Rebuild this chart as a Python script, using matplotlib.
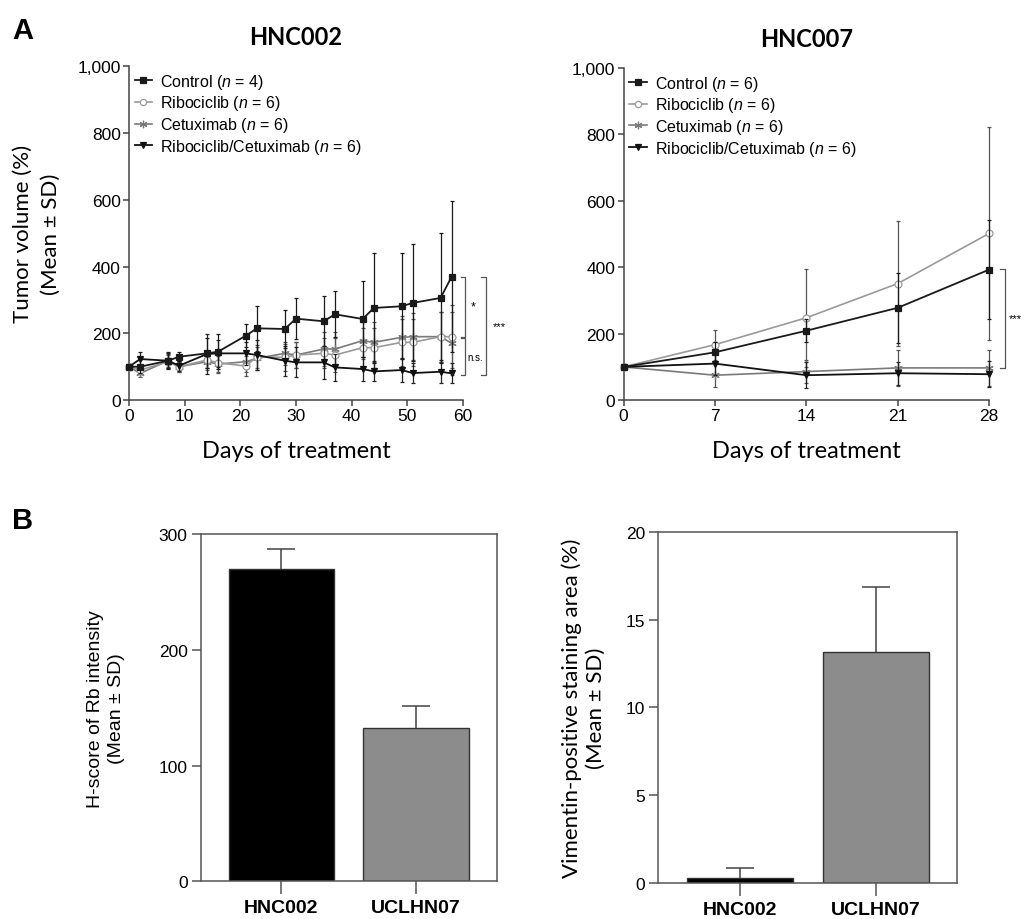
import matplotlib
matplotlib.use("Agg")
import matplotlib.pyplot as plt

plt.rcParams['font.family'] = ['Liberation Sans', 'DejaVu Sans']
plt.rcParams['mathtext.fontset'] = 'custom'
plt.rcParams['mathtext.it'] = 'Liberation Sans:italic'
plt.rcParams['mathtext.rm'] = 'Liberation Sans'

# ---- panel A, HNC002 ----
days_002 = [0, 2, 7, 9, 14, 16, 21, 23, 28, 30, 35, 37, 42, 44, 49, 51, 56, 58]
ctrl_002 = [100, 100, 118, 130, 140, 145, 193, 215, 213, 244, 236, 257, 243, 276, 281, 291, 306, 370]
ctrl_002_sd = [0, 20, 25, 13, 45, 53, 35, 68, 58, 62, 75, 69, 113, 164, 159, 175, 194, 225]
ribo_002 = [100, 90, 115, 100, 120, 112, 102, 130, 128, 135, 140, 135, 157, 157, 173, 173, 190, 190]
ribo_002_sd = [0, 12, 20, 15, 25, 30, 30, 35, 40, 40, 45, 50, 60, 60, 70, 70, 75, 95]
cetux_002 = [100, 80, 118, 100, 115, 108, 115, 125, 140, 135, 153, 153, 178, 173, 188, 190, 190, 170]
cetux_002_sd = [0, 10, 20, 15, 25, 25, 30, 35, 35, 40, 50, 50, 55, 60, 65, 70, 75, 95]
combo_002 = [100, 123, 118, 103, 138, 140, 140, 135, 118, 113, 113, 98, 93, 86, 90, 81, 85, 80]
combo_002_sd = [0, 22, 22, 15, 60, 40, 35, 45, 45, 45, 50, 40, 35, 30, 35, 30, 35, 30]
n_002 = [4, 6, 6, 6]

# ---- panel A, HNC007 ----
days_007 = [0, 7, 14, 21, 28]
ctrl_007 = [100, 144, 209, 278, 393]
ctrl_007_sd = [0, 30, 35, 105, 150]
ribo_007 = [100, 167, 248, 351, 502]
ribo_007_sd = [0, 45, 147, 187, 320]
cetux_007 = [100, 75, 86, 97, 97]
cetux_007_sd = [0, 35, 35, 55, 55]
combo_007 = [100, 110, 75, 81, 78]
combo_007_sd = [0, 35, 40, 35, 40]
n_007 = [6, 6, 6, 6]

names = ['Control', 'Ribociclib', 'Cetuximab', 'Ribociclib/Cetuximab']

# ---- panel B ----
models = ['HNC002', 'UCLHN07']
rb_hscore = [270, 133]
rb_hscore_sd = [17, 19]
vim_area = [0.3, 13.15]
vim_area_sd = [0.55, 3.7]

styles = [
    dict(color='#1a1a1a', ecolor='#1a1a1a', marker='s', ms=4.6, mfc='#1a1a1a', lw=1.3, z=6),
    dict(color='#9a9a9a', ecolor='#555555', marker='o', ms=5.0, mfc='white', lw=1.2, z=4),
    dict(color='#7a7a7a', ecolor='#555555', marker=(6, 2, 0), ms=6.0, mfc='#7a7a7a', lw=1.2, z=3),
    dict(color='#111111', ecolor='#222222', marker='v', ms=5.0, mfc='#111111', lw=1.3, z=5),
]

fig = plt.figure(figsize=(10.24, 9.2), dpi=100)


def growth_panel(ax, days, series, ns, xticks):
    handles = []
    for (mean, sd), st, name, n in zip(series, styles, names, ns):
        ax.errorbar(days, mean, yerr=sd, fmt='none', ecolor=st['ecolor'], elinewidth=0.9,
                    capsize=1.6, capthick=0.9, zorder=st['z'] - 1, clip_on=False)
        h, = ax.plot(days, mean, color=st['color'], lw=st['lw'], marker=st['marker'],
                     ms=st['ms'], mfc=st['mfc'], mec=st['color'], mew=0.9,
                     zorder=st['z'], clip_on=False,
                     label=name + r' ($\it{n}$ = %d)' % n)
        handles.append(h)
    ax.set_ylim(0, 1000)
    ax.set_yticks([0, 200, 400, 600, 800, 1000])
    ax.set_yticklabels(['0', '200', '400', '600', '800', '1,000'])
    ax.set_xticks(xticks)
    ax.set_xlim(xticks[0], xticks[-1])
    for s in ['top', 'right']:
        ax.spines[s].set_visible(False)
    for s in ['left', 'bottom']:
        ax.spines[s].set_color('#444444')
        ax.spines[s].set_linewidth(1.1)
    ax.tick_params(direction='out', length=4, width=1.1, color='#444444',
                   labelsize=12.5, pad=2)
    ax.set_xlabel('Days of treatment', family='Lato', fontsize=17, labelpad=12)
    ax.legend(handles=handles, loc='upper left', frameon=False, fontsize=11.5,
              handlelength=1.1, handletextpad=0.5, labelspacing=0.17,
              borderaxespad=0.15, borderpad=0.2, markerscale=0.9)
    return ax


def bracket(ax, x, y0, y1, tick, text, tx, size=8):
    ax.plot([x - tick, x, x, x - tick], [y0, y0, y1, y1], color='#555555', lw=0.9,
            clip_on=False)
    ax.text(tx, (y0 + y1) / 2, text, fontsize=size, ha='left', va='center', clip_on=False)


ax1 = fig.add_axes([0.126, 0.564, 0.326, 0.363])
growth_panel(ax1, days_002,
             [(ctrl_002, ctrl_002_sd), (ribo_002, ribo_002_sd),
              (cetux_002, cetux_002_sd), (combo_002, combo_002_sd)],
             n_002, [0, 10, 20, 30, 40, 50, 60])
ax1.set_title('HNC002', family='Lato', fontweight='bold', fontsize=17, pad=16)
ax1.set_ylabel('Tumor volume (%)\n(Mean ± SD)', family='Lato', fontsize=16,
               linespacing=1.5, labelpad=12)
mid_002 = max(ribo_002[-1], cetux_002[-1])
bracket(ax1, 60.4, ctrl_002[-1], mid_002, 0.8, '*', 61.5, size=9)
bracket(ax1, 60.4, mid_002 - 5, combo_002[-1] - 5, 0.8, 'n.s.', 60.9, size=7)
bracket(ax1, 64.1, ctrl_002[-1], combo_002[-1] - 5, 0.8, '***', 65.3, size=8)

ax2 = fig.add_axes([0.609, 0.564, 0.357, 0.361])
growth_panel(ax2, days_007,
             [(ctrl_007, ctrl_007_sd), (ribo_007, ribo_007_sd),
              (cetux_007, cetux_007_sd), (combo_007, combo_007_sd)],
             n_007, [0, 7, 14, 21, 28])
ax2.set_title('HNC007', family='Lato', fontweight='bold', fontsize=17, pad=16)
bracket(ax2, 29.2, ctrl_007[-1] + 3, cetux_007[-1], 0.4, '***', 29.5, size=8)


def bar_panel(ax, values, sds, ylim, yticks):
    x = range(len(models))
    ax.bar(x, values, width=0.785, color=['black', '#8c8c8c'], edgecolor='#333333',
           linewidth=1.0, zorder=2)
    eb = ax.errorbar(x, values, yerr=[[0] * len(sds), sds], fmt='none', ecolor='#444444',
                     elinewidth=1.1, capsize=10, capthick=1.1, zorder=1)
    eb[1][0].set_visible(False)
    ax.set_xlim(-0.6, 1.6)
    ax.set_ylim(*ylim)
    ax.set_yticks(yticks)
    ax.set_xticks(list(x))
    ax.set_xticklabels(models, fontweight='bold', fontsize=14)
    for s in ax.spines.values():
        s.set_color('#555555')
        s.set_linewidth(1.1)
    ax.tick_params(axis='y', direction='out', length=6.5, width=1.1, color='#555555',
                   labelsize=12.5, pad=3)
    ax.tick_params(axis='x', direction='out', length=9, width=1.1, color='#555555',
                   pad=4)


ax3 = fig.add_axes([0.196, 0.041, 0.289, 0.377])
bar_panel(ax3, rb_hscore, rb_hscore_sd, (0, 300), [0, 100, 200, 300])
ax3.set_ylabel('H-score of Rb intensity\n(Mean ± SD)', fontsize=14, linespacing=1.35,
               labelpad=24)

ax4 = fig.add_axes([0.643, 0.039, 0.292, 0.382])
bar_panel(ax4, vim_area, vim_area_sd, (0, 20), [0, 5, 10, 15, 20])
ax4.set_ylabel('Vimentin-positive staining area (%)\n(Mean ± SD)', family='Lato',
               fontsize=16, linespacing=1.25, labelpad=14)

fig.text(0.012, 0.966, 'A', fontsize=21, fontweight='bold', va='center')
fig.text(0.012, 0.434, 'B', fontsize=21, fontweight='bold', va='center')

fig.savefig('out.png', dpi=100)
